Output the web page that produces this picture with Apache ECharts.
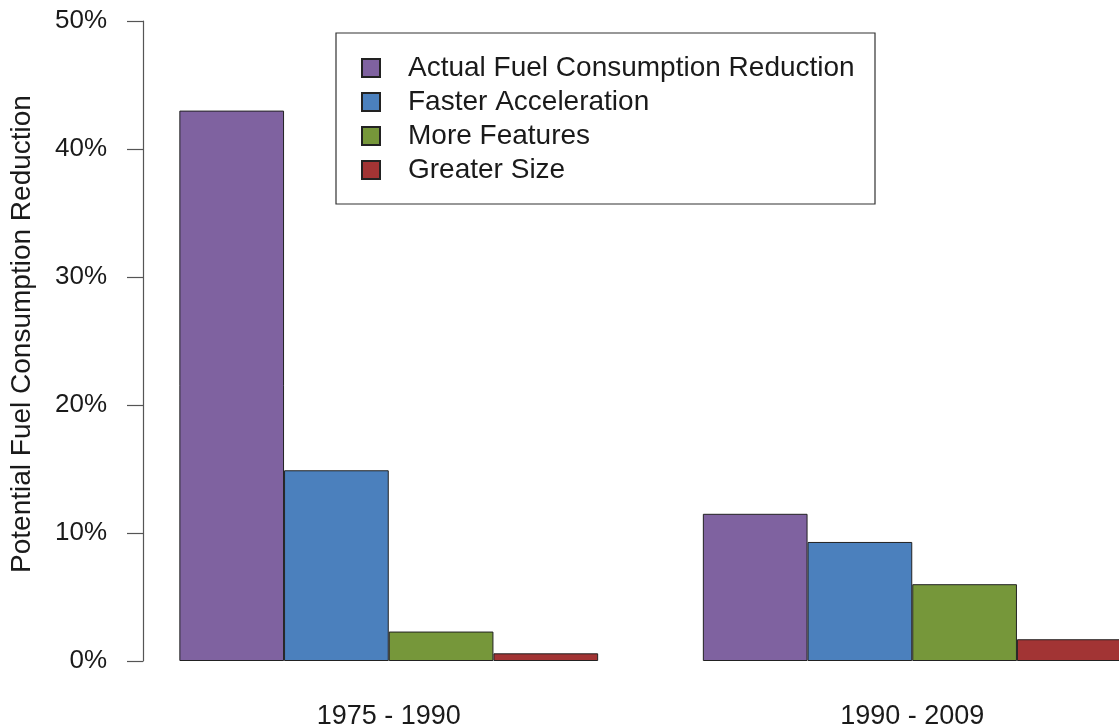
<!DOCTYPE html>
<html>
<head>
<meta charset="utf-8">
<script src="https://cdn.jsdelivr.net/npm/echarts@6/dist/echarts.min.js"></script>
<style>
  html, body { margin: 0; padding: 0; background: #fff; }
  #chart { width: 1119px; height: 727px; }
</style>
</head>
<body>
<div id="chart"></div>
<script>
const periods = ['1975 - 1990', '1990 - 2009']
const seriesNames = ['Actual Fuel Consumption Reduction', 'Faster Acceleration', 'More Features', 'Greater Size']
const actualReduction = [43.0, 11.5]
const fasterAcceleration = [14.9, 9.3]
const moreFeatures = [2.3, 6.0]
const greaterSize = [0.6, 1.7]
const yTicks = [0, 10, 20, 30, 40, 50]

const colors = ['#7f62a0', '#4b80bd', '#76973a', '#a23434']
const font = 'Liberation Sans, Arial, Helvetica, sans-serif'

const chart = echarts.init(document.getElementById('chart'))

const values = [actualReduction, fasterAcceleration, moreFeatures, greaterSize]

chart.setOption({
  animation: false,
  backgroundColor: '#fff',
  textStyle: { fontFamily: font },
  grid: {
    left: 127,
    width: 1047,
    top: 21,
    bottom: 66,
    containLabel: false,
    outerBoundsMode: 'none'
  },
  legend: {
    orient: 'vertical',
    left: 356,
    top: 48,
    icon: 'rect',
    itemWidth: 18,
    itemHeight: 18,
    itemGap: 4,
    data: seriesNames,
    textStyle: {
      fontFamily: font,
      fontSize: 28,
      lineHeight: 30,
      color: '#1a1a1a',
      padding: [0, 0, 0, 23]
    }
  },
  graphic: [
    {
      type: 'rect',
      shape: { x: 336, y: 33, width: 539, height: 171 },
      style: { fill: 'none', stroke: '#333', lineWidth: 1.2 },
      z: 1
    },
    {
      type: 'text',
      x: 22,
      y: 334,
      rotation: Math.PI / 2,
      style: {
        text: 'Potential Fuel Consumption Reduction',
        font: '28px ' + font,
        fill: '#1a1a1a',
        textAlign: 'center',
        textVerticalAlign: 'middle'
      }
    }
  ],
  xAxis: {
    type: 'category',
    data: periods,
    axisLine: { show: false },
    axisTick: { show: false },
    axisLabel: {
      margin: 42,
      fontSize: 27,
      color: '#1a1a1a',
      fontFamily: font
    }
  },
  yAxis: {
    type: 'value',
    min: 0,
    max: 50,
    interval: 10,
    offset: -16,
    splitLine: { show: false },
    axisLine: { show: true, lineStyle: { color: '#555', width: 1.2 } },
    axisTick: { show: true, length: 16, lineStyle: { color: '#555', width: 1.2 } },
    axisLabel: {
      margin: 36,
      fontSize: 26,
      color: '#1a1a1a',
      fontFamily: font,
      formatter: function (v) {
        return yTicks.indexOf(v) >= 0 ? v + '%' : ''
      }
    }
  },
  series: seriesNames.map(function (name, i) {
    return {
      name: name,
      type: 'bar',
      data: values[i],
      barGap: '0%',
      barCategoryGap: '20%',
      itemStyle: {
        color: colors[i],
        borderColor: '#222',
        borderWidth: 1
      }
    }
  })
})
</script>
</body>
</html>
